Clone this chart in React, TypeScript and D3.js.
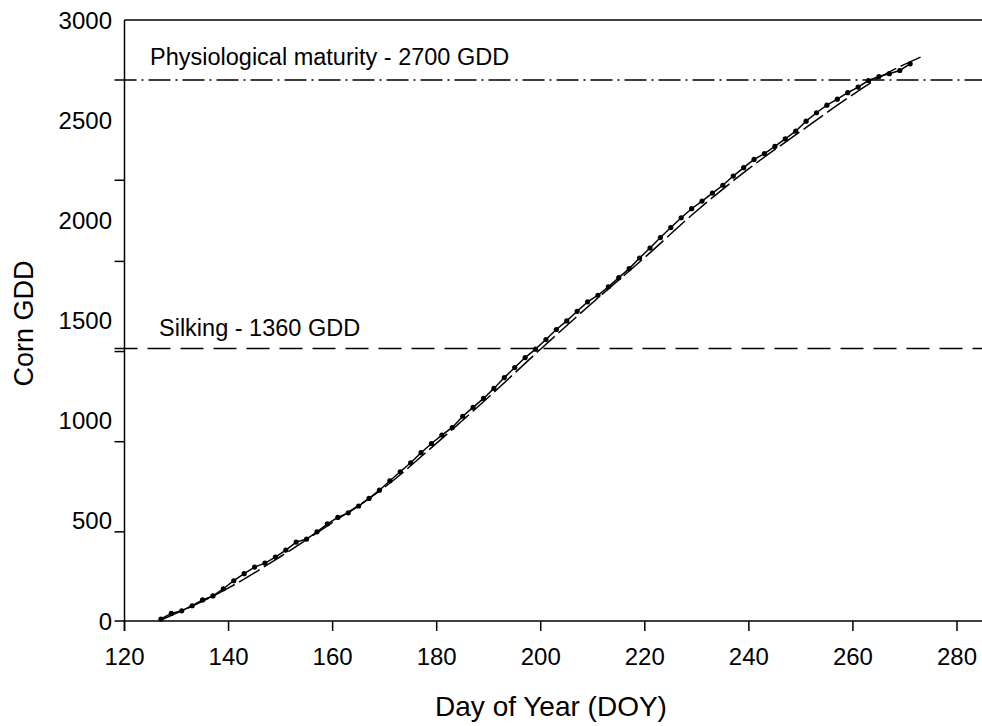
import React from "react";
import * as d3 from "d3";

const days: number[] = [
  127, 129, 131, 133, 135, 137, 139, 141, 143, 145, 147, 149, 151, 153, 155, 157, 159, 161, 163, 165, 167, 169,
  171, 173, 175, 177,
  179, 181, 183, 185, 187, 189, 191, 193, 195, 197, 199, 201, 203, 205, 207, 209, 211, 213, 215, 217, 219, 221, 223,
  225, 227, 229, 231, 233, 235, 237, 239, 241, 243, 245, 247, 249, 251, 253, 255, 257, 259, 261, 263, 265, 267, 269, 271,
];
const gdd: number[] = [
  10, 38, 51, 76, 105, 125, 161, 201, 236, 269, 289, 319, 354, 394, 409, 445, 485, 517, 540, 574, 612, 653,
  700, 745, 790, 840,
  886, 928, 966, 1022, 1066, 1111, 1161, 1215, 1265, 1315, 1357, 1405, 1455, 1498, 1546, 1593, 1626, 1668, 1714, 1759, 1812, 1862, 1914,
  1964, 2013, 2058, 2096, 2136, 2175, 2221, 2263, 2304, 2333, 2369, 2407, 2445, 2495, 2537, 2575, 2605, 2637, 2665, 2698, 2718, 2732, 2748, 2781,
];

const fitDays: number[] = [127, 140, 150, 160, 170, 180, 190, 200, 210, 220, 230, 240, 250, 260, 265, 273];
const fitGdd: number[] = [5, 165, 322, 492, 668, 888, 1118, 1358, 1590, 1815, 2048, 2258, 2445, 2628, 2712, 2815];

const xTicks: number[] = [120, 140, 160, 180, 200, 220, 240, 260, 280];
const yLabels: number[] = [0, 500, 1000, 1500, 2000, 2500, 3000];
const yTickMarks: number[] = [0, 445, 895, 1345, 1795, 2200];

const silking = 1360;
const maturity = 2700;
const silkingLabel = "Silking - 1360 GDD";
const maturityLabel = "Physiological maturity - 2700 GDD";
const xTitle = "Day of Year (DOY)";
const yTitle = "Corn GDD";

const W = 982;
const H = 726;

export default function App() {
  const x = d3.scaleLinear().domain([120, 285]).range([124.5, 983]);
  const y = d3.scaleLinear().domain([0, 3000]).range([621, 20]);
  const font = "'Liberation Sans', Arial, sans-serif";

  const dataLine = d3
    .line<number>()
    .x((_, i) => x(days[i]))
    .y((d) => y(d))(gdd) as string;

  const fitLine = d3
    .line<number>()
    .x((_, i) => x(fitDays[i]))
    .y((d) => y(d))
    .curve(d3.curveMonotoneX)(fitGdd) as string;

  const x0 = x(120);
  const xEnd = W;

  return (
    <svg
      width={W}
      height={H}
      style={{ position: "absolute", left: 0, top: 0, background: "#fff" }}
      fontFamily={font}
    >
      <rect x={0} y={0} width={W} height={H} fill="#fff" />
      {/* frame */}
      <line x1={x0} x2={xEnd} y1={y(3000)} y2={y(3000)} stroke="#000" strokeWidth={1.5} />
      <line x1={x0} x2={xEnd} y1={y(0)} y2={y(0)} stroke="#000" strokeWidth={1.5} />
      <line x1={x0} x2={x0} y1={y(3000)} y2={y(0) + 10} stroke="#000" strokeWidth={1.5} />

      {/* x ticks */}
      {xTicks.map((t) => (
        <g key={"xt" + t}>
          <line x1={x(t)} x2={x(t)} y1={y(0)} y2={y(0) + 10} stroke="#000" strokeWidth={1.5} />
          <text x={x(t)} y={665} fontSize={24} textAnchor="middle" fill="#000">
            {t}
          </text>
        </g>
      ))}

      {/* y ticks */}
      {yTickMarks.map((t) => (
        <line key={"ym" + t} x1={x0 - 10} x2={x0} y1={y(t)} y2={y(t)} stroke="#000" strokeWidth={1.5} />
      ))}
      {yLabels.map((t) => (
        <text
          key={"yl" + t}
          x={112}
          y={y(t)}
          dy="0.36em"
          fontSize={24}
          textAnchor="end"
          fill="#000"
        >
          {t}
        </text>
      ))}

      {/* reference lines */}
      <line
        x1={x0 - 10}
        x2={xEnd}
        y1={y(maturity)}
        y2={y(maturity)}
        stroke="#000"
        strokeWidth={1.5}
        strokeDasharray="22,5,2,5"
      />
      <line
        x1={x0 - 10}
        x2={xEnd}
        y1={y(silking)}
        y2={y(silking)}
        stroke="#000"
        strokeWidth={1.5}
        strokeDasharray="23,10"
      />
      <text x={150} y={y(maturity) - 15} fontSize={23.5} fill="#000">
        {maturityLabel}
      </text>
      <text x={159} y={y(silking) - 12.5} fontSize={23.5} fill="#000">
        {silkingLabel}
      </text>

      {/* fitted curve */}
      <path d={fitLine} fill="none" stroke="#000" strokeWidth={1.5} strokeDasharray="24,5" />
      {/* data */}
      <path d={dataLine} fill="none" stroke="#000" strokeWidth={1.5} />
      {gdd.map((v, i) => (
        <circle key={"p" + i} cx={x(days[i])} cy={y(v)} r={2.6} fill="#000" />
      ))}

      {/* titles */}
      <text x={551} y={716} fontSize={28} textAnchor="middle" fill="#000">
        {xTitle}
      </text>
      <text
        transform={`translate(33, ${(y(0) + y(3000)) / 2 + 3}) rotate(-90)`}
        fontSize={27}
        textAnchor="middle"
        fill="#000"
      >
        {yTitle}
      </text>
    </svg>
  );
}
